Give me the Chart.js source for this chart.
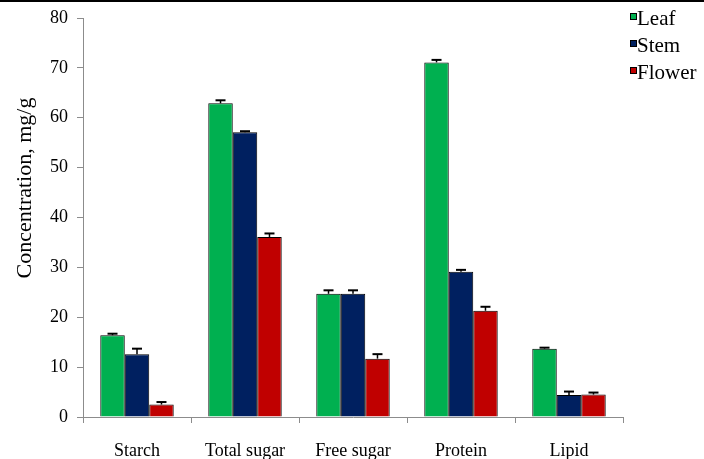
<!DOCTYPE html>
<html>
<head>
<meta charset="utf-8">
<script src="https://cdn.jsdelivr.net/npm/chart.js@4/dist/chart.umd.min.js"></script>
<style>
  html, body { margin: 0; padding: 0; background: #fff; }
  #wrap { position: relative; width: 704px; height: 459px; overflow: hidden; }
  #topbar { position: absolute; left: 0; top: 0; width: 704px; height: 2px; background: #000; }
</style>
</head>
<body>
<div id="wrap">
  <canvas id="c" width="704" height="459"></canvas>
  <div id="topbar"></div>
</div>
<script>
// Composition of plant parts (mg/g)
const categories = ['Starch', 'Total sugar', 'Free sugar', 'Protein', 'Lipid'];
const seriesNames = ['Leaf', 'Stem', 'Flower'];
const leafValues = [16.4, 62.9, 24.7, 71.1, 13.7];
const stemValues = [12.6, 57.1, 24.7, 29.1, 4.4];
const flowerValues = [2.5, 36.1, 11.7, 21.3, 4.5];
const leafErrors = [0.3, 0.6, 0.7, 0.5, 0.2];
const stemErrors = [1.1, 0.2, 0.7, 0.4, 0.7];
const flowerErrors = [0.5, 0.7, 0.9, 0.8, 0.4];
const yTickValues = [0, 10, 20, 30, 40, 50, 60, 70, 80];
const yAxisTitle = 'Concentration, mg/g';

const seriesColors = ['#00B050', '#002060', '#C00000'];
const serif = "'Liberation Serif', 'Times New Roman', serif";

const datasets = [
  { label: seriesNames[0], data: leafValues, errors: leafErrors },
  { label: seriesNames[1], data: stemValues, errors: stemErrors },
  { label: seriesNames[2], data: flowerValues, errors: flowerErrors }
].map((d, i) => Object.assign(d, {
  backgroundColor: seriesColors[i],
  borderColor: '#000',
  borderWidth: 1,
  borderSkipped: 'bottom',
  categoryPercentage: 0.68,
  barPercentage: 1.0
}));

// Upper error bars with caps
const errorBars = {
  id: 'errorBars',
  afterDatasetsDraw(chart) {
    const ctx = chart.ctx;
    const y = chart.scales.y;
    ctx.save();
    ctx.strokeStyle = '#000';
    chart.data.datasets.forEach((ds, di) => {
      const meta = chart.getDatasetMeta(di);
      meta.data.forEach((bar, i) => {
        const top = y.getPixelForValue(ds.data[i] + ds.errors[i]);
        ctx.lineWidth = 1.5;
        ctx.beginPath();
        ctx.moveTo(bar.x, bar.y);
        ctx.lineTo(bar.x, top);
        ctx.stroke();
        ctx.lineWidth = 2;
        ctx.beginPath();
        ctx.moveTo(bar.x - 5, top);
        ctx.lineTo(bar.x + 5, top);
        ctx.stroke();
      });
    });
    ctx.restore();
  }
};

// Legend in the top right corner and the rotated y-axis title
const annotations = {
  id: 'annotations',
  afterDraw(chart) {
    const ctx = chart.ctx;
    ctx.save();
    ctx.font = '21px ' + serif;
    ctx.textBaseline = 'alphabetic';
    ctx.textAlign = 'left';
    chart.data.datasets.forEach((ds, i) => {
      const baseY = 25 + i * 27;
      ctx.fillStyle = ds.backgroundColor;
      ctx.fillRect(630.5, baseY - 11.5, 6, 6);
      ctx.strokeStyle = '#000';
      ctx.lineWidth = 1;
      ctx.strokeRect(630.5, baseY - 11.5, 6, 6);
      ctx.fillStyle = '#000';
      ctx.fillText(ds.label, 637, baseY);
    });
    ctx.restore();

    ctx.save();
    ctx.translate(25, 188);
    ctx.rotate(-Math.PI / 2);
    ctx.font = '22px ' + serif;
    ctx.fillStyle = '#000';
    ctx.textAlign = 'center';
    ctx.textBaseline = 'middle';
    ctx.fillText(yAxisTitle, 0, 0);
    ctx.restore();
  }
};

new Chart(document.getElementById('c'), {
  type: 'bar',
  data: { labels: categories, datasets },
  options: {
    responsive: false,
    animation: false,
    devicePixelRatio: 1,
    layout: { padding: { left: 0, top: 17, right: 81, bottom: 0 } },
    plugins: {
      legend: { display: false },
      tooltip: { enabled: false }
    },
    scales: {
      x: {
        grid: { offset: true, drawOnChartArea: false, drawTicks: true, tickLength: 6, color: '#8c8c8c' },
        border: { color: '#8c8c8c', width: 1 },
        ticks: { color: '#000', font: { family: serif, size: 18 }, padding: 17, maxRotation: 0 },
        afterFit(scale) { scale.height = 42; }
      },
      y: {
        min: 0,
        max: 80,
        afterBuildTicks(scale) { scale.ticks = yTickValues.map(v => ({ value: v })); },
        grid: { drawOnChartArea: false, drawTicks: true, tickLength: 6, color: '#8c8c8c' },
        border: { color: '#8c8c8c', width: 1 },
        ticks: { color: '#000', font: { family: serif, size: 18, lineHeight: 1 }, padding: 9 },
        afterFit(scale) { scale.width = 83; }
      }
    }
  },
  plugins: [errorBars, annotations]
});
</script>
</body>
</html>
